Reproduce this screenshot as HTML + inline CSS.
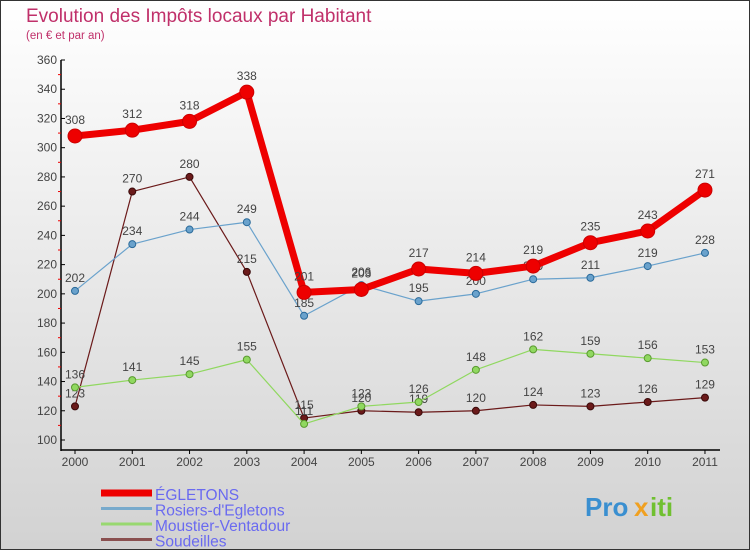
<!DOCTYPE html>
<html><head><meta charset="utf-8"><style>
body{margin:0}
#c{width:750px;height:550px;position:relative;background:linear-gradient(#fff,#d2d2d2);font-family:"Liberation Sans",sans-serif;box-sizing:border-box;border:1px solid #333;overflow:hidden}
text{font-family:"Liberation Sans",sans-serif}
</style></head><body>
<div id="c">
<svg id="s" width="750" height="550" style="position:absolute;left:-1px;top:-1px">
<text x="26" y="22" font-size="19" fill="#c0306a">Evolution des Impôts locaux par Habitant</text>
<text x="26" y="39" font-size="11.5" fill="#c0306a">(en € et par an)</text>
</svg>
</div>
<script>
const years=["2000","2001","2002","2003","2004","2005","2006","2007","2008","2009","2010","2011"];
const yTicks=[100,120,140,160,180,200,220,240,260,280,300,320,340,360];
const egletons=[308,312,318,338,201,203,217,214,219,235,243,271];
const rosiers=[202,234,244,249,185,206,195,200,210,211,219,228];
const moustier=[136,141,145,155,111,123,126,148,162,159,156,153];
const soudeilles=[123,270,280,215,115,120,119,120,124,123,126,129];
const seriesNames=["ÉGLETONS","Rosiers-d'Egletons","Moustier-Ventadour","Soudeilles"];
const svg=document.getElementById('s');const NS='http://www.w3.org/2000/svg';
function X(i){return 75+i*57.27;}
function Y(v){return 440-(v-100)*380/260;}
function el(t,a,txt){const e=document.createElementNS(NS,t);for(const k in a)e.setAttribute(k,a[k]);if(txt!==undefined)e.textContent=txt;svg.appendChild(e);return e;}
let e;
e=el('line',{x1:61,y1:60,x2:61,y2:451,stroke:'#000','stroke-width':1.5});


e=el('line',{x1:61,y1:450,x2:720,y2:450,stroke:'#000','stroke-width':1.5});


yTicks.forEach((v,i)=>{
 e=el('line',{x1:61,y1:Y(v),x2:65,y2:Y(v),stroke:'#000'});
 
 
 e=el('text',{x:57,y:Y(v)+4,'font-size':12,fill:'#444','text-anchor':'end'},v);
 
 
 if(i<yTicks.length-1){
  e=el('line',{x1:58,y1:Y(v+10),x2:61,y2:Y(v+10),stroke:'#e00'});
  
  
 }
});
years.forEach((y,i)=>{
 e=el('line',{x1:X(i),y1:450,x2:X(i),y2:454,stroke:'#000'});
 
 
 e=el('text',{x:X(i),y:466,'font-size':12,fill:'#444','text-anchor':'middle'},y);
 
 
});
function series(data,color,w,r,name,stroke){
 const pts=data.map((v,i)=>X(i)+','+Y(v)).join(' ');
 e=el('polyline',{points:pts,fill:'none',stroke:color,'stroke-width':w,'stroke-linejoin':'round'});
 
 
 data.forEach((v,i)=>{
  e=el('circle',{cx:X(i),cy:Y(v),r:r,fill:color,stroke:stroke,'stroke-width':1});
  
  
  e=el('text',{x:X(i),y:Y(v)-9-(r>5?3:0),'font-size':12,fill:'#444','text-anchor':'middle'},v);
  
  
 });
}
series(soudeilles,'#6b1a1a',1.2,3.5,'soudeilles','#3a0a0a');
series(moustier,'#90d860',1.2,3.5,'moustier','#5a9a30');
series(rosiers,'#6aa2cc',1.2,3.5,'rosiers','#2a6a9a');
series(egletons,'#ee0000',7,7,'egletons','#cc0000');
const lc=['#ee0000','#78aacc','#98d870','#8a5050'];const lw=[7,3,3,3];
seriesNames.forEach((n,i)=>{
 const y=493+i*15.5;
 e=el('line',{x1:101,y1:y,x2:152,y2:y,stroke:lc[i],'stroke-width':lw[i]});
 
 
 e=el('text',{x:155,y:y+7,'font-size':15.5,fill:'#6a6af0'},n);
 
 
});
e=el('text',{x:585,y:516,'font-size':26,'font-weight':'bold',fill:'#3a8fd0'},'Pro');


e=el('text',{x:634,y:516,'font-size':26,'font-weight':'bold',fill:'#f0a020'},'x');


e=el('text',{x:650,y:516,'font-size':26,'font-weight':'bold',fill:'#70c030'},'iti');


</script>
</body></html>
